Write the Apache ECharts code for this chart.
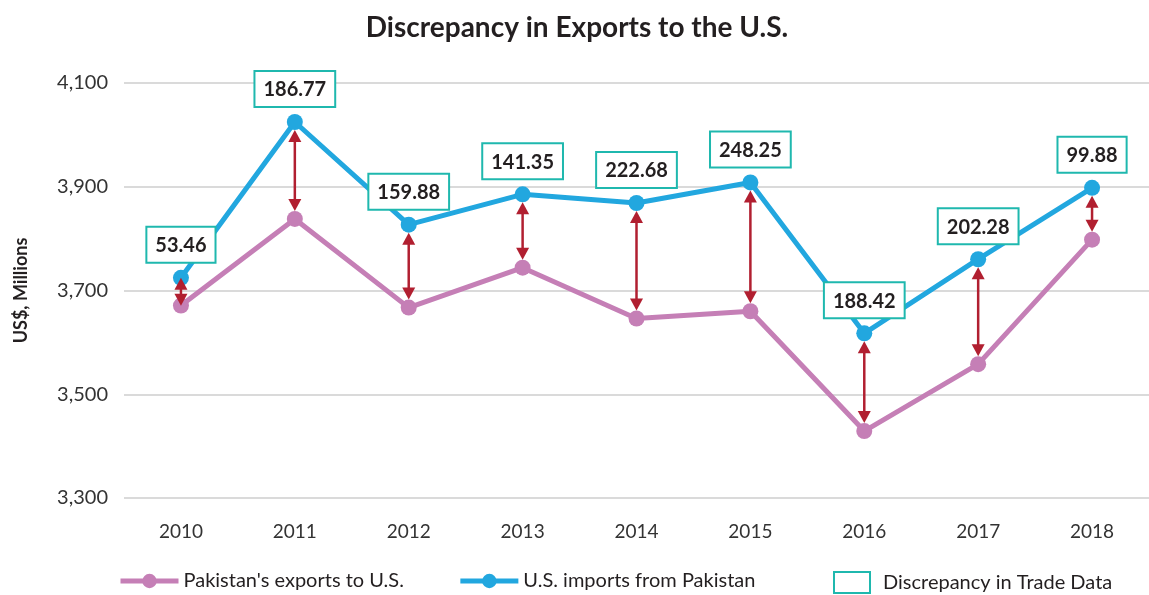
<!DOCTYPE html>
<html>
<head>
<meta charset="utf-8">
<script src="https://cdn.jsdelivr.net/npm/echarts@6/dist/echarts.min.js"></script>
<style>
  html, body { margin: 0; padding: 0; background: #fff; }
  #main { width: 1149px; height: 595px; }
</style>
</head>
<body>
<div id="main"></div>
<script>
var years = ['2010', '2011', '2012', '2013', '2014', '2015', '2016', '2017', '2018'];
// Pakistan's exports to U.S. (US$ millions)
var exportsPk = [3671, 3838, 3667, 3744, 3646, 3660, 3429, 3558, 3798];
// U.S. imports from Pakistan (US$ millions)
var importsUs = [3724.5, 4024.8, 3826.9, 3885.4, 3868.7, 3908.3, 3617.4, 3760.3, 3897.9];
// discrepancy labels
var discrepancy = ['53.46', '186.77', '159.88', '141.35', '222.68', '248.25', '188.42', '202.28', '99.88'];

var pink = '#c57fb6';
var blue = '#22a7df';
var arrowRed = '#b11f30';
var teal = '#1fb8ae';
var font = 'Lato, "Open Sans", sans-serif';

var arrowData = [];
for (var i = 0; i < years.length; i++) {
    arrowData.push([i, exportsPk[i], importsUs[i]]);
}

// double headed arrow between the two lines
function renderArrow(params, api) {
    var lo = api.coord([api.value(0), api.value(1)]);
    var hi = api.coord([api.value(0), api.value(2)]);
    var x = lo[0];
    var headL = 12, headW = 6.5;
    var dist = lo[1] - hi[1];
    var gap = Math.min(8, (dist - 2 * headL - 4) / 2);
    var yTop = hi[1] + gap;
    var yBot = lo[1] - gap;
    var style = { fill: arrowRed };
    return {
        type: 'group',
        children: [
            { type: 'line', shape: { x1: x, y1: yTop + headL - 1, x2: x, y2: yBot - headL + 1 },
              style: { stroke: arrowRed, lineWidth: 2.5 } },
            { type: 'polygon', shape: { points: [[x, yTop], [x - headW, yTop + headL], [x + headW, yTop + headL]] }, style: style },
            { type: 'polygon', shape: { points: [[x, yBot], [x - headW, yBot - headL], [x + headW, yBot - headL]] }, style: style }
        ]
    };
}

var myChart = echarts.init(document.getElementById('main'));
var option = {
    backgroundColor: '#fff',
    animation: false,
    title: {
        text: 'Discrepancy in Exports to the U.S.',
        left: 572,
        textAlign: 'center',
        top: 9,
        textStyle: { fontFamily: font, fontSize: 28, fontWeight: 'bold', color: '#231f20' }
    },
    legend: [{
        data: ["Pakistan's exports to U.S.", 'U.S. imports from Pakistan'],
        left: 118,
        top: 571,
        padding: 0,
        itemWidth: 58,
        itemHeight: 18,
        itemGap: 54,
        lineStyle: { width: 5 },
        textStyle: { fontFamily: font, fontSize: 20, color: '#231f20' }
    }, {
        data: [{
            name: 'Discrepancy in Trade Data',
            icon: 'rect',
            itemStyle: { color: '#fff', borderColor: teal, borderWidth: 2 }
        }],
        left: 833,
        top: 571,
        padding: 0,
        itemWidth: 36,
        itemHeight: 21,
        itemGap: 14,
        textStyle: { fontFamily: font, fontSize: 20, color: '#231f20', padding: [0, 0, 0, 8] }
    }],
    grid: { left: 124, right: 0, top: 83, bottom: 97 },
    xAxis: {
        type: 'category',
        data: years,
        boundaryGap: true,
        axisLine: { show: false },
        axisTick: { show: false },
        axisLabel: { margin: 24, fontFamily: font, fontSize: 19, color: '#333' }
    },
    yAxis: {
        type: 'value',
        min: 3300,
        max: 4100,
        interval: 200,
        name: 'US$, Millions',
        nameLocation: 'middle',
        nameGap: 94,
        nameTextStyle: { fontFamily: font, fontSize: 18, fontWeight: 'bold', color: '#231f20' },
        axisLine: { show: false },
        axisTick: { show: false },
        axisLabel: {
            margin: 16,
            fontFamily: font, fontSize: 20, color: '#333',
            formatter: function (v) { return echarts.format.addCommas(v); }
        },
        splitLine: { lineStyle: { color: '#dadada', width: 2 } }
    },
    series: [{
        name: "Pakistan's exports to U.S.",
        type: 'line',
        data: exportsPk,
        symbol: 'circle',
        symbolSize: 16,
        lineStyle: { color: pink, width: 5 },
        itemStyle: { color: pink },
        z: 2
    }, {
        name: 'U.S. imports from Pakistan',
        type: 'line',
        data: importsUs,
        symbol: 'circle',
        symbolSize: 16,
        lineStyle: { color: blue, width: 5 },
        itemStyle: { color: blue },
        z: 3,
        label: {
            show: true,
            position: 'top',
            distance: 8,
            formatter: function (p) { return discrepancy[p.dataIndex]; },
            fontFamily: font,
            fontSize: 20,
            fontWeight: 'bold',
            color: '#231f20',
            backgroundColor: '#fff',
            borderColor: teal,
            borderWidth: 2,
            padding: [8, 8, 6, 8]
        }
    }, {
        name: 'Discrepancy in Trade Data',
        type: 'custom',
        data: arrowData,
        encode: { x: 0, y: [1, 2] },
        renderItem: renderArrow,
        itemStyle: { color: arrowRed },
        z: 5
    }]
};
myChart.setOption(option);
</script>
</body>
</html>
